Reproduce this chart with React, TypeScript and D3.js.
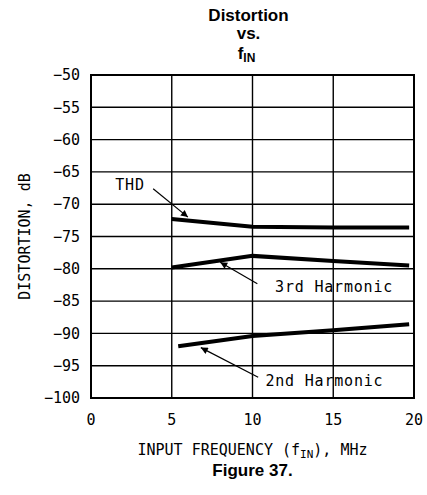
import * as d3 from "d3"

const W = 427
const H = 495

// x ticks (MHz) and y ticks (dB)
const xTicks = [0, 5, 10, 15, 20]
const yTicks = [-50, -55, -60, -65, -70, -75, -80, -85, -90, -95, -100]

// series: [fIN MHz, dB]
const thd: [number, number][] = [[5, -72.3], [10, -73.5], [15, -73.6], [19.7, -73.6]]
const third: [number, number][] = [[5, -79.8], [10, -78.0], [15, -78.8], [19.7, -79.5]]
const second: [number, number][] = [[5.4, -92.0], [10, -90.4], [15, -89.5], [19.7, -88.6]]

// annotations: label, label position [MHz, dB], arrow from, arrow to
const notes = [
  { label: "THD", at: [1.5, -67.0], from: [3.85, -67.6], to: [6.0, -72.0] },
  { label: "3rd Harmonic", at: [11.4, -82.8], from: [10.3, -82.3], to: [8.0, -79.0] },
  { label: "2nd Harmonic", at: [10.8, -97.4], from: [10.35, -96.8], to: [6.8, -92.2] },
]

const mono = "'DejaVu Sans Mono', monospace"

export default function App() {
  const margin = { top: 75, left: 91, right: 13, bottom: 97 }
  const x = d3.scaleLinear().domain([0, 20]).range([margin.left, W - margin.right])
  const y = d3.scaleLinear().domain([-50, -100]).range([margin.top, H - margin.bottom])
  const line = d3.line<[number, number]>().x(d => x(d[0])).y(d => y(d[1]))
  const cx = (x(0) + x(20)) / 2

  return (
    <svg width={W} height={H} style={{ position: "absolute", left: 0, top: 0, background: "#fff" }}>
      <defs>
        <marker id="ah" viewBox="0 0 10 10" refX="10" refY="5" markerWidth="10" markerHeight="7" orient="auto" markerUnits="userSpaceOnUse">
          <path d="M0,0 L10,5 L0,10 z" fill="#000" />
        </marker>
      </defs>

      {/* title */}
      <g fontFamily="Arial, 'Liberation Sans', sans-serif" fontWeight="bold" fill="#000" textAnchor="middle">
        <text x={cx - 4} y={21} fontSize={17}>Distortion</text>
        <text x={cx - 4} y={39} fontSize={17}>vs.</text>
        <text x={cx - 6} y={59} fontSize={17}>f<tspan fontSize={12} dy={3}>IN</tspan></text>
      </g>

      {/* grid */}
      {yTicks.map(t => (
        <line key={"h" + t} x1={x(0)} x2={x(20)} y1={y(t)} y2={y(t)} stroke="#000" strokeWidth={1.4} />
      ))}
      {xTicks.map(t => (
        <line key={"v" + t} x1={x(t)} x2={x(t)} y1={y(-50)} y2={y(-100)} stroke="#000" strokeWidth={1.4} />
      ))}
      <rect x={x(0)} y={y(-50)} width={x(20) - x(0)} height={y(-100) - y(-50)} fill="none" stroke="#000" strokeWidth={2} />

      {/* tick labels */}
      <g fontFamily={mono} fontSize={15} fill="#000">
        {yTicks.map(t => (
          <text key={"yl" + t} x={x(0) - 11} y={y(t)} dy="0.35em" textAnchor="end">
            {"\u2212" + Math.abs(t)}
          </text>
        ))}
        {xTicks.map(t => (
          <text key={"xl" + t} x={x(t)} y={y(-100) + 27} textAnchor="middle">{t}</text>
        ))}
        <text x={cx} y={y(-100) + 57} textAnchor="middle">
          INPUT FREQUENCY (f<tspan fontSize={11} dy={3}>IN</tspan><tspan dy={-3}>), MHz</tspan>
        </text>
        <text transform={`translate(30,${(y(-50) + y(-100)) / 2}) rotate(-90)`} textAnchor="middle">
          DISTORTION, dB
        </text>
      </g>

      {/* series */}
      {[thd, third, second].map((s, i) => (
        <path key={i} d={line(s) ?? ""} fill="none" stroke="#000" strokeWidth={4} />
      ))}

      {/* annotations */}
      <g fontFamily={mono} fontSize={15} fill="#000">
        {notes.map(n => (
          <g key={n.label}>
            <text x={x(n.at[0])} y={y(n.at[1])} dy="0.35em" letterSpacing={0.8}>{n.label}</text>
            <line x1={x(n.from[0])} y1={y(n.from[1])} x2={x(n.to[0])} y2={y(n.to[1])} stroke="#000" strokeWidth={1.2} markerEnd="url(#ah)" />
          </g>
        ))}
      </g>

      <text x={cx} y={476} textAnchor="middle" fontFamily="Arial, 'Liberation Sans', sans-serif" fontWeight="bold" fontSize={17}>
        Figure 37.
      </text>
    </svg>
  )
}
